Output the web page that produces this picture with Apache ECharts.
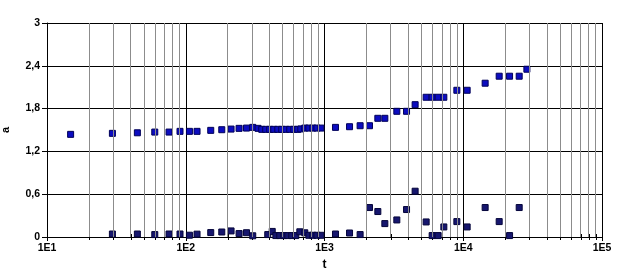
<!DOCTYPE html>
<html><head><meta charset="utf-8">
<script src="https://cdn.jsdelivr.net/npm/echarts@6/dist/echarts.min.js"></script>
<style>html,body{margin:0;padding:0;background:#fff}#c{width:621px;height:273px}</style>
</head><body><div id="c"></div>
<script>
// Upper series (t, a)
const upperT = [14.8,29.6,44.8,59.8,75.8,90.9,106.3,120.6,151.4,181.8,212.1,242.3,274,304,332,
  353,377,403,431,461,492,526,562,601,642,675,721,771,824,881,942,
  1200,1515,1806,2110,2423,2722,3321,3902,4500,5402,5969,6592,7246,8992,10669,14383,18153,21571,25302,28747];
const upperA = [1.439,1.453,1.461,1.471,1.471,1.481,1.481,1.481,1.495,1.504,1.513,1.523,1.527,1.537,1.523,
  1.509,1.509,1.509,1.509,1.509,1.509,1.509,1.509,1.509,1.509,1.515,1.527,1.527,1.527,1.527,1.527,
  1.537,1.546,1.560,1.560,1.664,1.664,1.762,1.762,1.855,1.959,1.959,1.959,1.959,2.057,2.057,2.156,2.254,2.254,2.254,2.352];
// Lower series (t, a)
const lowerT = [29.6,44.8,59.8,75.8,90.9,106.3,120.6,151.4,181.8,212.1,242.3,274,304,390,420,
  446,476,509,544,581,621,664,721,771,824,881,942,
  1200,1515,1806,2110,2423,2722,3321,3902,4500,5402,5969,6592,7246,8992,10669,14383,18153,21571,25302];
const lowerA = [0.042,0.042,0.034,0.042,0.042,0.025,0.040,0.062,0.070,0.085,0.048,0.060,0.017,0.034,0.078,
  0.020,0.020,0.020,0.020,0.020,0.020,0.073,0.059,0.024,0.024,0.024,0.024,
  0.042,0.056,0.034,0.413,0.357,0.188,0.239,0.385,0.642,0.211,0.020,0.020,0.141,0.216,0.141,0.413,0.216,0.020,0.413];
// Axis settings
const xMin = 10, xMax = 100000;
const yMin = 0, yMax = 3, yStep = 0.6;
const minorT = [20,30,40,50,60,70,80,90,200,300,400,500,600,700,800,900,
  2000,3000,4000,5000,6000,7000,8000,9000,20000,30000,40000,50000,60000,70000,80000,90000];

const font = {fontFamily:'Liberation Sans, Arial, sans-serif', fontWeight:'bold', fontSize:10.5, color:'#000'};
const chart = echarts.init(document.getElementById('c'), null, {renderer:'canvas'});
chart.setOption({
  animation:false,
  backgroundColor:'#fff',
  grid:{left:47, right:19, top:23, bottom:36, containLabel:false, outerBoundsMode:'none'},
  xAxis:{
    type:'log', logBase:10, min:xMin, max:xMax,
    name:'t', nameLocation:'middle', nameGap:20,
    nameTextStyle:Object.assign({}, font, {fontSize:12}),
    axisLine:{show:true, onZero:false, lineStyle:{color:'#000', width:1}},
    axisTick:{show:true, length:4, lineStyle:{color:'#000'}},
    axisLabel:Object.assign({}, font, {margin:6, formatter:v=>'1E'+Math.round(Math.log10(v))}),
    splitLine:{show:true, lineStyle:{color:'#000', width:1}},
    minorTick:{show:false}, minorSplitLine:{show:false}
  },
  yAxis:{
    type:'value', min:yMin, max:yMax, interval:yStep,
    name:'a', nameLocation:'middle', nameGap:36, nameRotate:90,
    nameTextStyle:Object.assign({}, font, {fontSize:11}),
    axisLine:{show:true, lineStyle:{color:'#000', width:1}},
    axisTick:{show:true, length:5, lineStyle:{color:'#000'}},
    axisLabel:Object.assign({}, font, {margin:7, formatter:v=>String(Math.round(v*10)/10).replace('.',',')}),
    splitLine:{show:true, lineStyle:{color:'#000', width:1}}
  },
  series:[
    {
      type:'line', data:[], z:1, silent:true,
      markLine:{
        silent:true, symbol:['none','none'], label:{show:false},
        lineStyle:{color:'#8c8c8c', width:1, type:'solid'},
        emphasis:{disabled:true},
        data:minorT.map(v=>({xAxis:v}))
      }
    },
    {
      type:'custom', z:2, silent:true, clip:false,
      data:minorT.map(v=>[v, yMin]),
      renderItem:(params, api)=>{
        const p = api.coord([api.value(0), api.value(1)]);
        return {type:'line', shape:{x1:Math.round(p[0])+0.5, y1:p[1]-3, x2:Math.round(p[0])+0.5, y2:p[1]+3}, style:{stroke:'#000', lineWidth:1}};
      }
    },
    {
      type:'scatter', z:4, symbol:'rect', symbolSize:6,
      itemStyle:{color:'#0c0cc0', borderColor:'#000058', borderWidth:1, opacity:1},
      data:upperT.map((t,i)=>[t, upperA[i]])
    },
    {
      type:'scatter', z:4, symbol:'rect', symbolSize:6,
      itemStyle:{color:'#16166e', borderColor:'#05053a', borderWidth:1, opacity:1},
      data:lowerT.map((t,i)=>[t, lowerA[i]])
    }
  ]
});
</script>
</body></html>
